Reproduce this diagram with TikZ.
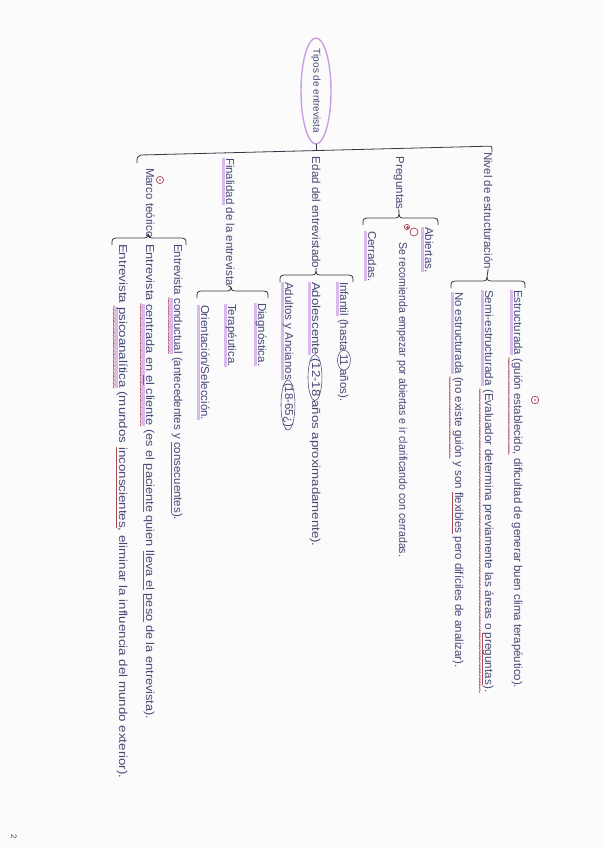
\documentclass[tikz,border=0pt]{standalone}
\usepackage{graphicx}
\usepackage{fontspec}
\setmainfont{Liberation Sans}
\usetikzlibrary{shapes.geometric}
\definecolor{ink}{RGB}{72,72,118}
\definecolor{lnc}{RGB}{55,55,72}
\definecolor{hlc}{RGB}{218,186,238}
\definecolor{wvc}{RGB}{176,72,92}
\definecolor{rootc}{RGB}{200,160,226}
\definecolor{paper}{RGB}{251,251,252}
\newcommand\hlp[1]{\setbox0\hbox{#1}\rlap{\textcolor{hlc}{\rule[-3.8pt]{\wd0}{2.6pt}}}\box0\relax}
\newcommand\wav[1]{\setbox0\hbox{#1}\rlap{\raisebox{-8pt}[0pt][0pt]{\hbox to \wd0{\color{wvc}\fontsize{8.5}{8.5}\selectfont\bfseries\xleaders\hbox{\kern-0.9pt\char"7E\kern-0.9pt}\hfil}}}\box0\relax}
\newcommand\ulr[1]{\setbox0\hbox{#1}\rlap{\textcolor{wvc}{\rule[-3pt]{\wd0}{0.7pt}}}\box0\relax}
\newcommand\sx[2]{\scalebox{#1}[1]{#2}}
\newcommand\brak[5]{%
  \draw[ln] (#2,#4+7) .. controls (#2,#4+1) .. (#2+4,#4) -- (#5-4,#4)
    .. controls (#5-1,#4) .. (#5,#4-4) .. controls (#5+1,#4) .. (#5+4,#4)
    -- (#3-4,#4) .. controls (#3,#4+1) .. (#3,#4+7);
  \draw[ln] (#1.east) -- (#5,#4-4);}
\tikzset{
  txt/.style={rotate=-90, anchor=base west, inner sep=0pt, outer sep=0pt, text=ink,
    font=\fontsize{11.5}{13}\selectfont},
  ln/.style={draw=lnc, line width=0.8pt, line cap=round, line join=round},
  circ/.style={draw=ink, line width=0.55pt},
  redm/.style={draw=wvc, line width=0.75pt},
  rootline/.style={draw=rootc, line width=1.4pt}
}
\begin{document}
\begin{tikzpicture}[x=1pt, y=-1pt]
\fill[paper] (0,0) rectangle (604,848);
\useasboundingbox (0,0) rectangle (604,848);

% root
\node[txt, anchor=center, font=\fontsize{10}{12}\selectfont] (root) at (316,91) {Tipos de entrevista};
\draw[rootline] (root.center) ellipse [x radius=15, y radius=53];
\coordinate (rootb) at (316,144);
\coordinate (rootm) at (316,150.5);
\draw[ln] (rootb) -- (rootm);
\draw[ln] (137,163) .. controls (137,157) .. (141,155) -- (488,146.2) .. controls (492,146) .. (492,152);

% level 1
\node[txt] (nivel) at (484,152) {Nivel de estructuración};
\node[txt] (preg) at (396,157) {Preguntas};
\node[txt] (edad) at (312,157) {Edad del entrevistado};
\node[txt] (fin) at (226,158) {\hlp{Finalidad} de la entrevista};
\node[txt] (marco) at (146,168) {Marco teórico};
\draw[redm] (160,180) circle [radius=3.6];
\fill[wvc] (160,180) circle [radius=0.8];

% nivel children
\brak{nivel}{451}{525}{281}{487}
\node[txt] (estr) at (514,290) {\hlp{Estructurada} \wav{(guión establecido,} dificultad de generar buen clima terapéutico).};
\node[txt] (semi) at (485,290) {\sx{1.02}{\hlp{Semi-estructurada} \wav{(Evaluador determina previamente las áreas o \ulr{preguntas}).}}};
\node[txt] (noes) at (455,292) {\hlp{No estructurada} \wav{(no existe guión} y son \ulr{flexibles} pero difíciles de analizar).};
\draw[redm] (535,400) circle [radius=3.8];
\fill[wvc] (535,400) circle [radius=0.8];

% preguntas children
\brak{preg}{363}{438}{218}{399}
\node[txt] (abie) at (425,227) {\hlp{Abiertas.}};
\node[txt] (reco) at (399,242) {\sx{0.92}{Se recomienda empezar por abiertas e ir clarificando con cerradas.}};
\node[txt] (cerr) at (368,231) {\hlp{Cerradas.}};
\draw[redm] (407,227) circle [radius=2.6];
\draw[wvc, line width=0.5pt] (405.5,227) -- (408.5,227) (407,225.5) -- (407,228.5);
\draw[redm] (414,232) circle [radius=4];

% edad children
\brak{edad}{280}{353}{275}{316}
\node[txt] (inf) at (340,282) {\hlp{Infantil} (hasta\ \null};
\node[txt] (inf11) at (inf.base east) {11};
\node[txt] (infb) at (inf11.base east) {\ años).};
\draw[circ] (inf11.center) ellipse [x radius=6.5, y radius=10];
\node[txt] (adol) at (312,282) {\sx{1.15}{\hlp{Adolescente}\ \null}};
\node[txt] (adoln) at (adol.base east) {\sx{1.15}{(12-18}};
\node[txt] (adolb) at (adoln.base east) {\sx{1.15}{\ años aproximadamente).}};
\draw[circ] (adoln.center) ellipse [x radius=7, y radius=23];
\node[txt] (adul) at (285,282) {\hlp{Adultos y Ancianos}\ \null};
\node[txt] (aduln) at (adul.base east) {(18-65¿)};
\node[txt] (adulb) at (aduln.base east) {.};
\draw[circ] (aduln.center) ellipse [x radius=7, y radius=25];

% finalidad children
\brak{fin}{197}{268}{291}{231}
\node[txt] (diag) at (258,303) {\hlp{Diagnóstica.}};
\node[txt] (tera) at (228,304) {\hlp{Terapéutica.}};
\node[txt] (orie) at (201,305) {\hlp{Orientación/Selección.}};

% marco children
\brak{marco}{112}{186}{238}{148}
\node[txt] (cond) at (174,244) {Entrevista \hlp{\wav{conductual}} (antecedentes y \ulr{consecuentes}).};
\node[txt] (cent) at (146,244) {\sx{1.11}{Entrevista \hlp{\wav{centrada en \ulr{el} cliente}} (es el \ulr{paciente} quien \ulr{lleva el} \ulr{peso} de la entrevista).}};
\node[txt] (psic) at (119,244) {\sx{1.16}{Entrevista \hlp{\wav{psicoanalítica}} (mundos \ulr{inconscientes}, eliminar la influencia del mundo exterior).}};

% page number
\node[rotate=-90, text=ink, inner sep=0pt, font=\fontsize{8}{8}\selectfont] (pg) at (14,837) {2};
\end{tikzpicture}
\end{document}
